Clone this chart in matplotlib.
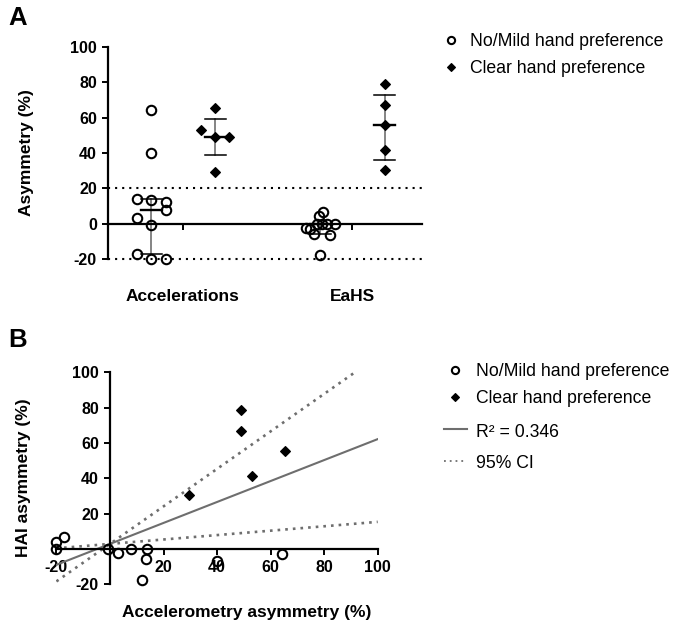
import numpy as np
import matplotlib
matplotlib.use("Agg")
import matplotlib.pyplot as plt
from matplotlib.lines import Line2D

plt.rcParams['font.family'] = ['Liberation Sans', 'DejaVu Sans']
plt.rcParams['axes.unicode_minus'] = False

# ---------------- data ----------------
categories = ['Accelerations', 'EaHS']
# No/Mild hand preference (paired per subject)
acc_nm = [-20.0, -20.0, -17.2, -0.7, 3.0, 7.8, 14.0, 13.3, 12.0, 40.0, 64.2]
eahs_nm = [4.1, 0.0, 6.6, 0.0, -2.5, 0.0, 0.0, -5.9, -17.6, -6.6, -3.0]
# Clear hand preference (paired per subject)
acc_cl = [29.4, 48.9, 48.9, 53.0, 65.2]
eahs_cl = [30.5, 78.9, 66.9, 41.5, 55.7]
legend_labels = ['No/Mild hand preference', 'Clear hand preference']
fit_label = 'R² = 0.346'
ci_label = '95% CI'
yticks_a = [-20, 0, 20, 40, 60, 80, 100]
ticks_b = [-20, 0, 20, 40, 60, 80, 100]
T_CRIT = 2.145  # t(0.975, df=14)

# ---------------- layout ----------------
W, H = 674, 625
PX_PER_CAT = 169.3
OFF_NM, OFF_CL = -0.187, 0.192
jit_acc_nm = [0, 14.5, -14.5, 0, -14.5, 14.5, -14.5, 0, 14.5, 0, 0]
jit_eahs_nm = [-1.7, -3.3, 2.3, 1.7, -14.3, 6.7, 15, -6, 0, 10, -10]
jit_acc_cl = [0, 0, 14, -14.7, 0]
jit_eahs_cl = [0, 0, 0, 0, 0]
GREY = '#6e6e6e'
BAR_GREY = '#707070'
CIRC = dict(marker='o', ms=6.8, mfc='none', mec='k', mew=1.5, ls='none')
DIAM = dict(marker='D', ms=5.3, mfc='k', mec='k', mew=0.8, ls='none')


def fx(px):
    return px / W


def fy(py):
    return 1 - py / H


fig = plt.figure(figsize=(W / 100, H / 100), dpi=100)
axA = fig.add_axes([fx(108), fy(259), 314 / W, 212 / H])
axB = fig.add_axes([fx(56.4), fy(584.3), 321.3 / W, 212 / H])

# ---------------- Panel A ----------------
cat_pos = np.arange(len(categories))
axA.set_xlim(-0.441, 1.413)
axA.set_ylim(-20, 100)

groups = [
    (acc_nm, cat_pos[0] + OFF_NM, jit_acc_nm, 'nm'),
    (acc_cl, cat_pos[0] + OFF_CL, jit_acc_cl, 'cl'),
    (eahs_nm, cat_pos[1] + OFF_NM, jit_eahs_nm, 'nm'),
    (eahs_cl, cat_pos[1] + OFF_CL, jit_eahs_cl, 'cl'),
]

axA.axhline(20, color='k', lw=1.5, ls=(0, (1, 2.4)), zorder=1)
axA.axhline(-20, color='k', lw=1.5, ls=(0, (1, 2.4)), zorder=1, clip_on=False)

cw = 10.5 / PX_PER_CAT
for vals, xc, jit, kind in groups:
    v = np.asarray(vals)
    q1, med, q3 = np.percentile(v, [25, 50, 75], method='weibull')
    axA.plot([xc, xc], [q1, q3], color=BAR_GREY, lw=1.2, zorder=2, clip_on=False)
    axA.plot([xc - cw, xc + cw], [q1, q1], color='k', lw=1.1, zorder=2, clip_on=False)
    axA.plot([xc - cw, xc + cw], [q3, q3], color='k', lw=1.1, zorder=2, clip_on=False)
    axA.plot([xc - cw, xc + cw], [med, med], color='k', lw=1.7, zorder=4, clip_on=False)
    xs = xc + np.asarray(jit) / PX_PER_CAT
    style = CIRC if kind == 'nm' else DIAM
    axA.plot(xs, v, clip_on=False, zorder=3, **style)

for s in ['top', 'right']:
    axA.spines[s].set_visible(False)
axA.spines['bottom'].set_position(('data', 0))
axA.spines['left'].set_linewidth(1.6)
axA.spines['bottom'].set_linewidth(1.6)
axA.set_yticks(yticks_a)
axA.set_yticklabels([str(t) for t in yticks_a])
axA.set_xticks(cat_pos)
axA.set_xticklabels([])
axA.tick_params(axis='both', direction='out', length=4.5, width=1.4, labelsize=11.5)
for lab in axA.get_yticklabels():
    lab.set_fontweight('bold')
for xc, name in zip(cat_pos, categories):
    axA.text(xc, -41.5, name, ha='center', va='center', fontsize=12.5,
             fontweight='bold', clip_on=False)

fig.text(fx(27), fy(153), 'Asymmetry (%)', rotation=90, ha='center', va='center',
         fontsize=12.5, fontweight='bold')

# ---------------- Panel B ----------------
x_all = np.array(acc_nm + acc_cl)
y_all = np.array(eahs_nm + eahs_cl)
slope, intercept = np.polyfit(x_all, y_all, 1)
resid = y_all - (intercept + slope * x_all)
sxx = np.sum((x_all - x_all.mean()) ** 2)
se_slope = np.sqrt(np.sum(resid ** 2) / (len(x_all) - 2) / sxx)

axB.set_xlim(-20, 100)
axB.set_ylim(-20, 100)
xl = np.array([-20.0, 100.0])
axB.plot(xl, intercept + slope * xl, color=GREY, lw=1.5, zorder=2)
axB.plot(xl, intercept + (slope + T_CRIT * se_slope) * xl, color=GREY, lw=1.9,
         ls=(0, (1, 1.9)), zorder=2)
axB.plot(xl, intercept + (slope - T_CRIT * se_slope) * xl, color=GREY, lw=1.9,
         ls=(0, (1, 1.9)), zorder=2)

axB.plot(acc_nm, eahs_nm, clip_on=False, zorder=3, **CIRC)
axB.plot(acc_cl, eahs_cl, clip_on=False, zorder=3, **DIAM)

for s in ['top', 'right']:
    axB.spines[s].set_visible(False)
axB.spines['bottom'].set_position(('data', 0))
axB.spines['left'].set_position(('data', 0))
axB.spines['left'].set_linewidth(1.6)
axB.spines['bottom'].set_linewidth(1.6)
axB.set_xticks(ticks_b)
axB.set_xticklabels(['' if t == 0 else str(t) for t in ticks_b])
axB.set_yticks(ticks_b)
axB.set_yticklabels(['' if t == 0 else str(t) for t in ticks_b])
axB.tick_params(axis='both', direction='out', length=4.5, width=1.4, labelsize=11.5)
for lab in axB.get_xticklabels() + axB.get_yticklabels():
    lab.set_fontweight('bold')

fig.text(fx(247), fy(613), 'Accelerometry asymmetry (%)', ha='center', va='center',
         fontsize=12.5, fontweight='bold')
fig.text(fx(24), fy(478), 'HAI asymmetry (%)', rotation=90, ha='center', va='center',
         fontsize=12.5, fontweight='bold')

# ---------------- panel letters ----------------
fig.text(fx(8), fy(25), 'A', fontsize=18.5, fontweight='bold', va='baseline')
fig.text(fx(8), fy(347), 'B', fontsize=18.5, fontweight='bold', va='baseline')

# ---------------- legends ----------------
LEG_FS = 12.7
cap = 0.716 * LEG_FS / 0.72 / 2


def leg_marker(px, py, kind):
    if kind == 'nm':
        art = Line2D([fx(px)], [fy(py)], marker='o', ms=5.2, mfc='none', mec='k',
                     mew=1.5, ls='none', transform=fig.transFigure)
    else:
        art = Line2D([fx(px)], [fy(py)], marker='D', ms=4.5, mfc='k', mec='k',
                     mew=0.8, ls='none', transform=fig.transFigure)
    fig.add_artist(art)


def leg_text(px, py, s):
    fig.text(fx(px), fy(py + cap), s, fontsize=LEG_FS, va='baseline', ha='left')


# Panel A legend
leg_marker(451, 40, 'nm')
leg_text(470, 40, legend_labels[0])
leg_marker(451, 67, 'cl')
leg_text(470, 67, legend_labels[1])

# Panel B legend
leg_marker(455, 370, 'nm')
leg_text(476, 370, legend_labels[0])
leg_marker(455, 397, 'cl')
leg_text(476, 397, legend_labels[1])
fig.add_artist(Line2D([fx(444), fx(467)], [fy(429), fy(429)], color=GREY, lw=1.5,
                      transform=fig.transFigure))
leg_text(476, 431, fit_label)
fig.add_artist(Line2D([fx(444), fx(467)], [fy(461), fy(461)], color=GREY, lw=1.3,
                      ls=(0, (1, 2.2)), transform=fig.transFigure))
leg_text(476, 462, ci_label)

fig.savefig('out.png', dpi=100)
